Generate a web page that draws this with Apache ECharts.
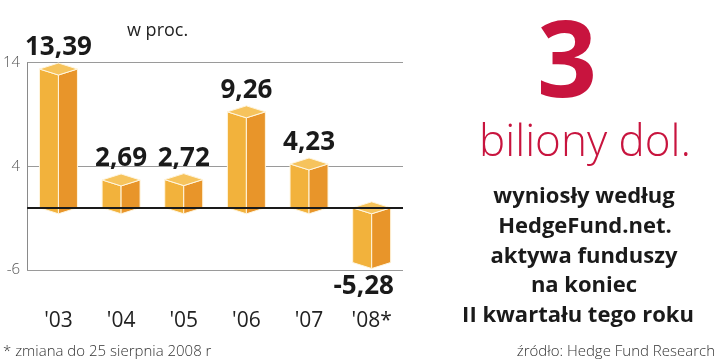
<!DOCTYPE html>
<html>
<head>
<meta charset="utf-8">
<script src="https://cdn.jsdelivr.net/npm/echarts@6/dist/echarts.min.js"></script>
<style>
html,body{margin:0;padding:0;background:#fff;}
#chart{width:720px;height:362px;}
</style>
</head>
<body>
<div id="chart"></div>
<script>
const categories = ["'03", "'04", "'05", "'06", "'07", "'08*"];
const values = [13.39, 2.69, 2.72, 9.26, 4.23, -5.28];
const valueLabels = ['13,39', '2,69', '2,72', '9,26', '4,23', '-5,28'];
const yTicks = [-6, 4, 14];

const chart = echarts.init(document.getElementById('chart'), null, {renderer: 'canvas'});
const FONT = '"Open Sans", "DejaVu Sans", sans-serif';

const option = {
  backgroundColor: '#ffffff',
  animation: false,
  grid: {left: 25, right: 317, top: 62.7, bottom: 92, containLabel: false},
  xAxis: {
    type: 'category',
    data: categories,
    boundaryGap: true,
    axisLine: {show: false},
    axisTick: {show: false},
    axisLabel: {margin: 41, fontSize: 21, color: '#222', fontFamily: FONT, fontWeight: 500}
  },
  yAxis: {
    type: 'value',
    min: yTicks[0],
    max: yTicks[yTicks.length - 1],
    interval: 10,
    axisLine: {show: true, lineStyle: {color: '#8a8a8a', width: 1}},
    axisTick: {show: false},
    splitLine: {show: true, lineStyle: {color: '#9a9a9a', width: 1}},
    axisLabel: {margin: 7, fontSize: 15, color: '#555', fontFamily: FONT, fontWeight: 300}
  },
  series: [
    {
      type: 'line',
      data: [],
      z: 1,
      markLine: {
        silent: true,
        symbol: 'none',
        label: {show: false},
        lineStyle: {color: '#1a1a1a', width: 2, type: 'solid'},
        data: [{yAxis: 0}]
      }
    },
    {
      type: 'custom',
      z: 3,
      data: values.map((v, i) => [i, v]),
      renderItem: function (params, api) {
        const i = api.value(0), v = api.value(1);
        const pv = api.coord([i, v]);
        const p0 = api.coord([i, 0]);
        const cx = pv[0];
        const w = 19, d = 6;
        const yTop = Math.min(pv[1], p0[1]);
        const yBot = Math.max(pv[1], p0[1]);
        const stroke = {stroke: '#fff6e0', lineWidth: 1};
        const children = [
          {type: 'polygon', shape: {points: [[cx - w, yTop], [cx, yTop + d], [cx, yBot + d], [cx - w, yBot]]},
            style: Object.assign({fill: '#f2b23c'}, stroke)},
          {type: 'polygon', shape: {points: [[cx, yTop + d], [cx + w, yTop], [cx + w, yBot], [cx, yBot + d]]},
            style: Object.assign({fill: '#e8952a'}, stroke)},
          {type: 'polygon', shape: {points: [[cx, yTop - d], [cx + w, yTop], [cx, yTop + d], [cx - w, yTop]]},
            style: Object.assign({fill: '#f6c35c'}, stroke)}
        ];
        const lbl = valueLabels[params.dataIndex];
        if (v >= 0) {
          children.push({type: 'text', style: {text: lbl, x: cx, y: yTop - d - 2, textAlign: 'center', textVerticalAlign: 'bottom',
            fill: '#1a1a1a', font: 'bold 26px ' + FONT}});
        } else {
          children.push({type: 'text', style: {text: lbl, x: cx - 8, y: yBot + d + 5, textAlign: 'center', textVerticalAlign: 'top',
            fill: '#1a1a1a', font: 'bold 26px ' + FONT}});
        }
        return {type: 'group', children: children};
      }
    }
  ],
  graphic: [
    {type: 'text', left: 127, top: 22, style: {text: 'w proc.', fill: '#222', font: '18px ' + FONT}},
    {type: 'text', x: 567, y: 67, style: {text: '3', fill: '#c8143e', font: 'bold 105px ' + FONT, textAlign: 'center', textVerticalAlign: 'middle'}},
    {type: 'text', x: 585, y: 143, style: {text: 'biliony dol.', fill: '#c8143e', font: '300 44px ' + FONT, textAlign: 'center', textVerticalAlign: 'middle'}},
    {type: 'text', x: 584, y: 197, style: {text: 'wyniosły według', fill: '#1a1a1a', font: 'bold 22px ' + FONT, textAlign: 'center', textVerticalAlign: 'middle'}},
    {type: 'text', x: 585, y: 227, style: {text: 'HedgeFund.net.', fill: '#1a1a1a', font: 'bold 22px ' + FONT, textAlign: 'center', textVerticalAlign: 'middle'}},
    {type: 'text', x: 584, y: 257, style: {text: 'aktywa funduszy', fill: '#1a1a1a', font: 'bold 22px ' + FONT, textAlign: 'center', textVerticalAlign: 'middle'}},
    {type: 'text', x: 584, y: 286, style: {text: 'na koniec', fill: '#1a1a1a', font: 'bold 22px ' + FONT, textAlign: 'center', textVerticalAlign: 'middle'}},
    {type: 'text', x: 578, y: 316, style: {text: 'II kwartału tego roku', fill: '#1a1a1a', font: 'bold 22px ' + FONT, textAlign: 'center', textVerticalAlign: 'middle'}},
    {type: 'text', x: 3, y: 352, style: {text: '* zmiana do 25 sierpnia 2008 r', fill: '#333', font: '300 15px ' + FONT, textAlign: 'left', textVerticalAlign: 'middle'}},
    {type: 'text', x: 715, y: 352, style: {text: 'źródło: Hedge Fund Research', fill: '#333', font: '300 15px ' + FONT, textAlign: 'right', textVerticalAlign: 'middle'}}
  ]
};
chart.setOption(option);
</script>
</body>
</html>
